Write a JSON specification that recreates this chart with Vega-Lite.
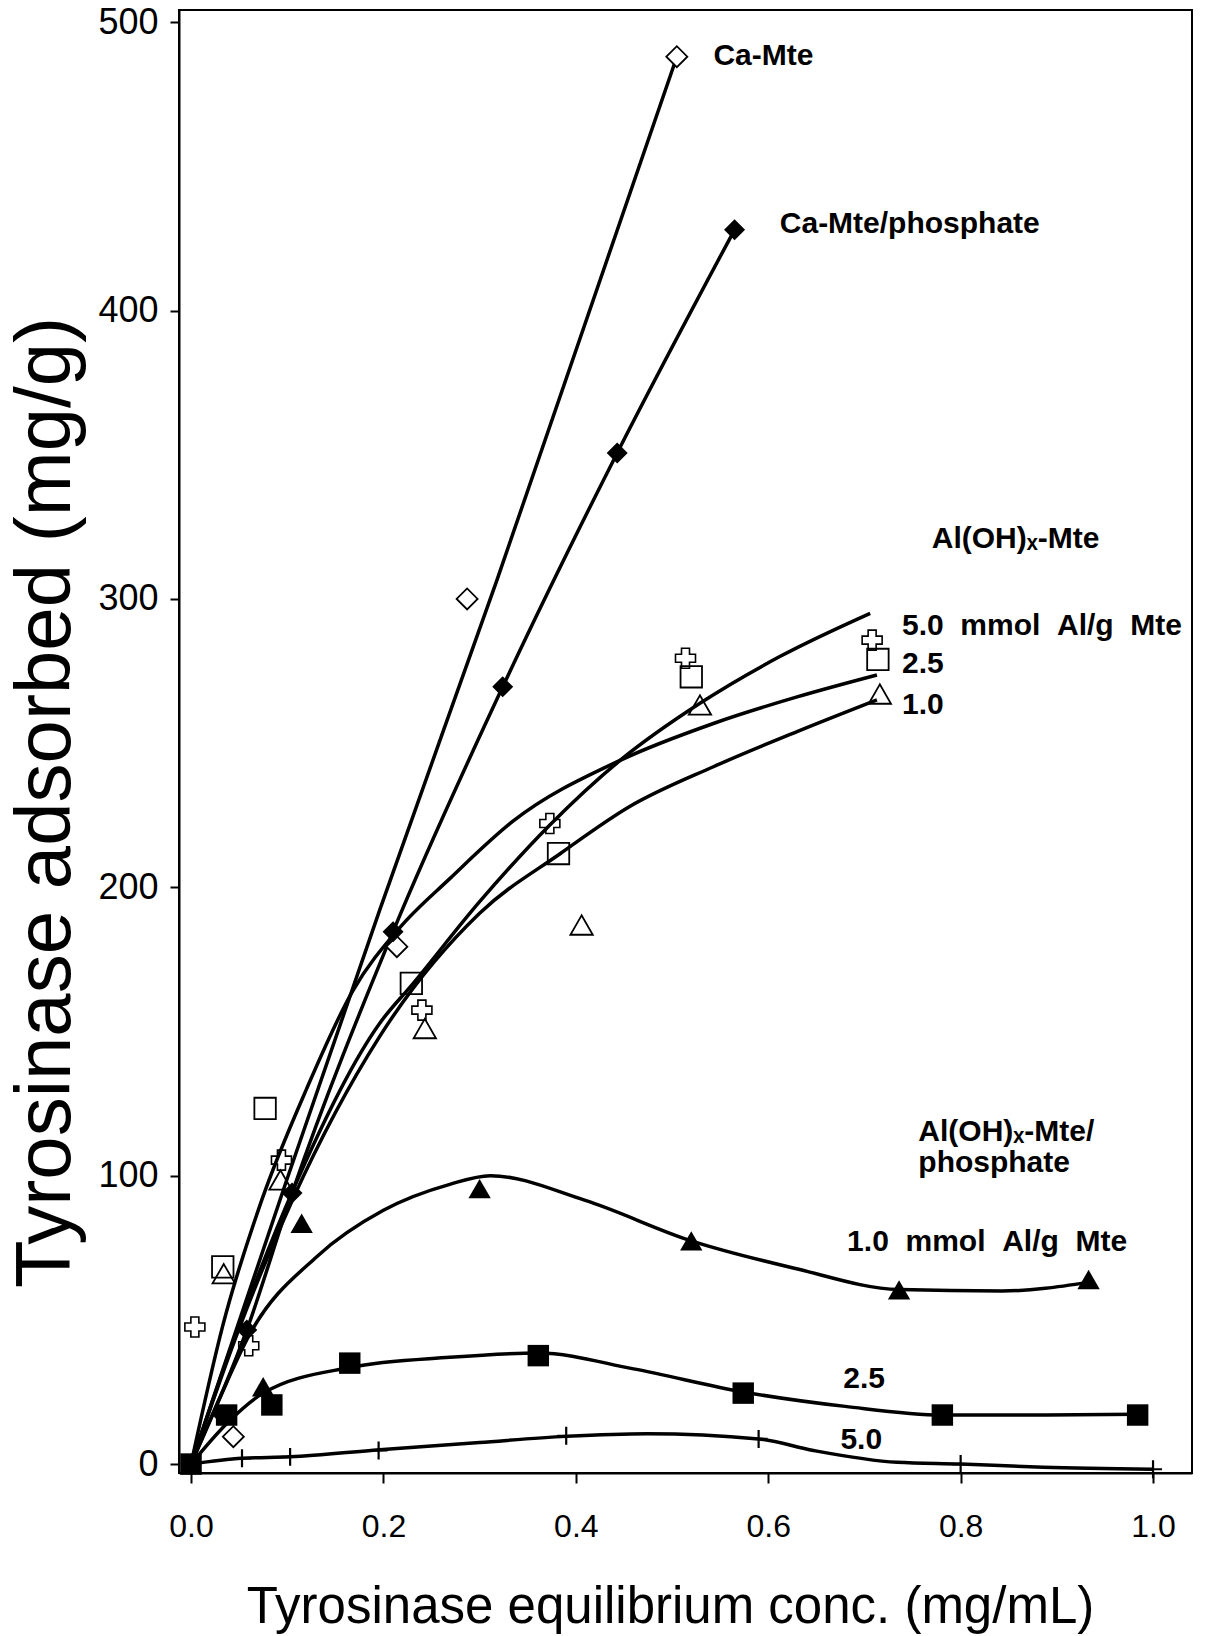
{
  "$schema": "https://vega.github.io/schema/vega-lite/v6.json",
  "width": 1013,
  "height": 1463,
  "autosize": {"type": "none"},
  "padding": {"left": 179, "top": 10, "right": 13, "bottom": 163},
  "background": "white",
  "config": {
    "view": {"stroke": "black", "strokeWidth": 2},
    "axis": {"grid": false, "domainColor": "black", "tickColor": "black", "labelColor": "black", "titleColor": "black", "domainWidth": 2, "tickWidth": 2}
  },
  "datasets": {
    "pts": [
      {"s": "CaMte", "x": 0.044, "y": 9.5}, {"s": "CaMte", "x": 0.214, "y": 179.4}, {"s": "CaMte", "x": 0.287, "y": 300}, {"s": "CaMte", "x": 0.505, "y": 488},
      {"s": "CaMteP", "x": 0, "y": 0}, {"s": "CaMteP", "x": 0.033, "y": 17}, {"s": "CaMteP", "x": 0.058, "y": 46.5}, {"s": "CaMteP", "x": 0.105, "y": 94}, {"s": "CaMteP", "x": 0.21, "y": 184.6}, {"s": "CaMteP", "x": 0.324, "y": 269.5}, {"s": "CaMteP", "x": 0.443, "y": 350.6}, {"s": "CaMteP", "x": 0.565, "y": 428},
      {"s": "Al5", "x": 0.004, "y": 47.5}, {"s": "Al5", "x": 0.06, "y": 41}, {"s": "Al5", "x": 0.094, "y": 105.4}, {"s": "Al5", "x": 0.24, "y": 157.4}, {"s": "Al5", "x": 0.373, "y": 222.1}, {"s": "Al5", "x": 0.514, "y": 279.4}, {"s": "Al5", "x": 0.708, "y": 285.7},
      {"s": "Al25", "x": 0.033, "y": 68.4}, {"s": "Al25", "x": 0.077, "y": 123.3}, {"s": "Al25", "x": 0.229, "y": 166.7}, {"s": "Al25", "x": 0.382, "y": 211.7}, {"s": "Al25", "x": 0.52, "y": 273}, {"s": "Al25", "x": 0.714, "y": 279},
      {"s": "Al1", "x": 0.034, "y": 66}, {"s": "Al1", "x": 0.093, "y": 98.5}, {"s": "Al1", "x": 0.243, "y": 151}, {"s": "Al1", "x": 0.406, "y": 186.9}, {"s": "Al1", "x": 0.529, "y": 263.2}, {"s": "Al1", "x": 0.716, "y": 267},
      {"s": "P1", "x": 0.075, "y": 26.8}, {"s": "P1", "x": 0.115, "y": 83.5}, {"s": "P1", "x": 0.3, "y": 95.5}, {"s": "P1", "x": 0.52, "y": 77.4}, {"s": "P1", "x": 0.736, "y": 60.4}, {"s": "P1", "x": 0.933, "y": 64},
      {"s": "P25", "x": 0, "y": 0}, {"s": "P25", "x": 0.037, "y": 17}, {"s": "P25", "x": 0.084, "y": 20.5}, {"s": "P25", "x": 0.165, "y": 35}, {"s": "P25", "x": 0.361, "y": 37.6}, {"s": "P25", "x": 0.574, "y": 24.6}, {"s": "P25", "x": 0.781, "y": 17}, {"s": "P25", "x": 0.984, "y": 17},
      {"s": "P5", "x": 0.053, "y": 2}, {"s": "P5", "x": 0.103, "y": 2.5}, {"s": "P5", "x": 0.195, "y": 4.7}, {"s": "P5", "x": 0.39, "y": 9.8}, {"s": "P5", "x": 0.59, "y": 8.7}, {"s": "P5", "x": 0.8, "y": 0}, {"s": "P5", "x": 1.0, "y": -1.8}
    ],
    "curves": [
      {"s": "CaMte", "x": 0, "y": 0}, {"s": "CaMte", "x": 0.1, "y": 99}, {"s": "CaMte", "x": 0.196, "y": 192}, {"s": "CaMte", "x": 0.318, "y": 306.5}, {"s": "CaMte", "x": 0.505, "y": 488},
      {"s": "CaMteP", "x": 0, "y": 0}, {"s": "CaMteP", "x": 0.058, "y": 46.5}, {"s": "CaMteP", "x": 0.105, "y": 94}, {"s": "CaMteP", "x": 0.21, "y": 184.6}, {"s": "CaMteP", "x": 0.324, "y": 269.5}, {"s": "CaMteP", "x": 0.443, "y": 350.6}, {"s": "CaMteP", "x": 0.565, "y": 428},
      {"s": "Al5", "x": 0, "y": 0}, {"s": "Al5", "x": 0.05, "y": 48}, {"s": "Al5", "x": 0.106, "y": 95}, {"s": "Al5", "x": 0.196, "y": 152.8}, {"s": "Al5", "x": 0.231, "y": 166.7}, {"s": "Al5", "x": 0.3, "y": 195}, {"s": "Al5", "x": 0.373, "y": 221.6}, {"s": "Al5", "x": 0.446, "y": 244}, {"s": "Al5", "x": 0.529, "y": 263.8}, {"s": "Al5", "x": 0.612, "y": 280}, {"s": "Al5", "x": 0.706, "y": 295},
      {"s": "Al25", "x": 0, "y": 0}, {"s": "Al25", "x": 0.033, "y": 48}, {"s": "Al25", "x": 0.0735, "y": 91.5}, {"s": "Al25", "x": 0.12, "y": 130}, {"s": "Al25", "x": 0.168, "y": 164}, {"s": "Al25", "x": 0.217, "y": 186}, {"s": "Al25", "x": 0.269, "y": 203}, {"s": "Al25", "x": 0.335, "y": 223}, {"s": "Al25", "x": 0.446, "y": 244}, {"s": "Al25", "x": 0.543, "y": 256.8}, {"s": "Al25", "x": 0.63, "y": 266}, {"s": "Al25", "x": 0.713, "y": 273.6},
      {"s": "Al1", "x": 0, "y": 0}, {"s": "Al1", "x": 0.05, "y": 47}, {"s": "Al1", "x": 0.106, "y": 92}, {"s": "Al1", "x": 0.196, "y": 148.2}, {"s": "Al1", "x": 0.3, "y": 191}, {"s": "Al1", "x": 0.384, "y": 211.7}, {"s": "Al1", "x": 0.456, "y": 228}, {"s": "Al1", "x": 0.543, "y": 241.8}, {"s": "Al1", "x": 0.63, "y": 254}, {"s": "Al1", "x": 0.713, "y": 265},
      {"s": "P1", "x": 0, "y": 0}, {"s": "P1", "x": 0.03, "y": 23}, {"s": "P1", "x": 0.061, "y": 45}, {"s": "P1", "x": 0.131, "y": 72}, {"s": "P1", "x": 0.2, "y": 88}, {"s": "P1", "x": 0.269, "y": 97}, {"s": "P1", "x": 0.311, "y": 100}, {"s": "P1", "x": 0.409, "y": 91.5}, {"s": "P1", "x": 0.52, "y": 77.4}, {"s": "P1", "x": 0.626, "y": 68}, {"s": "P1", "x": 0.736, "y": 60.5}, {"s": "P1", "x": 0.843, "y": 60}, {"s": "P1", "x": 0.933, "y": 63},
      {"s": "P25", "x": 0, "y": 0}, {"s": "P25", "x": 0.037, "y": 14}, {"s": "P25", "x": 0.075, "y": 24.6}, {"s": "P25", "x": 0.165, "y": 33.5}, {"s": "P25", "x": 0.269, "y": 37}, {"s": "P25", "x": 0.361, "y": 38.5}, {"s": "P25", "x": 0.46, "y": 33}, {"s": "P25", "x": 0.574, "y": 25}, {"s": "P25", "x": 0.68, "y": 20}, {"s": "P25", "x": 0.781, "y": 17}, {"s": "P25", "x": 0.88, "y": 17}, {"s": "P25", "x": 0.984, "y": 17.3},
      {"s": "P5", "x": 0, "y": 0}, {"s": "P5", "x": 0.053, "y": 2}, {"s": "P5", "x": 0.103, "y": 2.5}, {"s": "P5", "x": 0.196, "y": 5}, {"s": "P5", "x": 0.3, "y": 7.5}, {"s": "P5", "x": 0.39, "y": 9.6}, {"s": "P5", "x": 0.474, "y": 10.5}, {"s": "P5", "x": 0.59, "y": 8.7}, {"s": "P5", "x": 0.647, "y": 4.7}, {"s": "P5", "x": 0.734, "y": 0.6}, {"s": "P5", "x": 0.8, "y": 0}, {"s": "P5", "x": 0.886, "y": -1.1}, {"s": "P5", "x": 1.0, "y": -1.8}
    ],
    "labels": [
      {"t": "Ca-Mte", "x": 0.543, "y": 488.2},
      {"t": "Ca-Mte/phosphate", "x": 0.612, "y": 430},
      {"t": "Al(OH)ₓ-Mte", "x": 0.77, "y": 320.7},
      {"t": "5.0\u00a0\u00a0mmol\u00a0\u00a0Al/g\u00a0\u00a0Mte", "x": 0.739, "y": 290.6},
      {"t": "2.5", "x": 0.739, "y": 277.4},
      {"t": "1.0", "x": 0.739, "y": 263.2},
      {"t": "Al(OH)ₓ-Mte/", "x": 0.756, "y": 115.1},
      {"t": "phosphate", "x": 0.756, "y": 104.4},
      {"t": "1.0\u00a0\u00a0mmol\u00a0\u00a0Al/g\u00a0\u00a0Mte", "x": 0.682, "y": 77},
      {"t": "2.5", "x": 0.678, "y": 29.5},
      {"t": "5.0", "x": 0.675, "y": 8.3}
    ]
  },
  "encoding": {
    "x": {
      "field": "x", "type": "quantitative",
      "scale": {"domain": [-0.0125, 1.0405], "nice": false, "zero": false},
      "axis": {
        "values": [0, 0.2, 0.4, 0.6, 0.8, 1.0], "format": ".1f",
        "title": "Tyrosinase equilibrium conc. (mg/mL)",
        "labelFont": "Liberation Sans", "labelFontSize": 32, "labelPadding": 28, "tickSize": 10,
        "titleFont": "Liberation Sans", "titleFontSize": 51, "titleFontWeight": "normal",
        "titleX": 491, "titleY": 134, "titleBaseline": "middle", "titleAlign": "center"
      }
    },
    "y": {
      "field": "y", "type": "quantitative",
      "scale": {"domain": [-3.1, 504.2], "nice": false, "zero": false},
      "axis": {
        "values": [0, 100, 200, 300, 400, 500],
        "title": "Tyrosinase adsorbed (mg/g)",
        "labelFont": "Liberation Sans", "labelFontSize": 36, "labelPadding": 12, "tickSize": 9,
        "titleFont": "Liberation Sans", "titleFontSize": 78, "titleFontWeight": "normal",
        "titleX": -133, "titleY": 792, "titleAngle": 270, "titleBaseline": "middle", "titleAlign": "center"
      }
    }
  },
  "layer": [
    {
      "data": {"name": "curves"},
      "mark": {"type": "line", "color": "black", "strokeWidth": 3.5, "interpolate": "monotone"},
      "encoding": {"detail": {"field": "s", "type": "nominal"}}
    },
    {
      "data": {"name": "pts"},
      "transform": [{"filter": "datum.s == 'CaMte'"}],
      "mark": {"type": "point", "shape": "diamond", "size": 440, "filled": false, "stroke": "black", "strokeWidth": 1.8, "fill": "white", "fillOpacity": 1}
    },
    {
      "data": {"name": "pts"},
      "transform": [{"filter": "datum.s == 'CaMteP'"}],
      "mark": {"type": "point", "shape": "diamond", "size": 440, "filled": true, "color": "black", "opacity": 1}
    },
    {
      "data": {"name": "pts"},
      "transform": [{"filter": "datum.s == 'Al5'"}],
      "mark": {"type": "point", "shape": "cross", "size": 400, "filled": false, "stroke": "black", "strokeWidth": 1.6, "opacity": 1}
    },
    {
      "data": {"name": "pts"},
      "transform": [{"filter": "datum.s == 'Al25'"}],
      "mark": {"type": "point", "shape": "square", "size": 460, "filled": false, "stroke": "black", "strokeWidth": 1.8, "opacity": 1}
    },
    {
      "data": {"name": "pts"},
      "transform": [{"filter": "datum.s == 'Al1'"}],
      "mark": {"type": "point", "shape": "triangle-up", "size": 500, "filled": false, "stroke": "black", "strokeWidth": 1.8, "opacity": 1}
    },
    {
      "data": {"name": "pts"},
      "transform": [{"filter": "datum.s == 'P1'"}],
      "mark": {"type": "point", "shape": "triangle-up", "size": 500, "filled": true, "color": "black", "opacity": 1}
    },
    {
      "data": {"name": "pts"},
      "transform": [{"filter": "datum.s == 'P25'"}],
      "mark": {"type": "point", "shape": "square", "size": 460, "filled": true, "color": "black", "opacity": 1}
    },
    {
      "data": {"name": "pts"},
      "transform": [{"filter": "datum.s == 'P5'"}],
      "mark": {"type": "point", "shape": "M-1,0L1,0M0,-1L0,1", "size": 320, "filled": false, "stroke": "black", "strokeWidth": 2.2, "opacity": 1}
    },
    {
      "data": {"name": "labels"},
      "mark": {"type": "text", "align": "left", "baseline": "middle", "font": "Liberation Sans", "fontWeight": "bold", "fontSize": 30, "color": "black"},
      "encoding": {"text": {"field": "t", "type": "nominal"}}
    }
  ]
}
